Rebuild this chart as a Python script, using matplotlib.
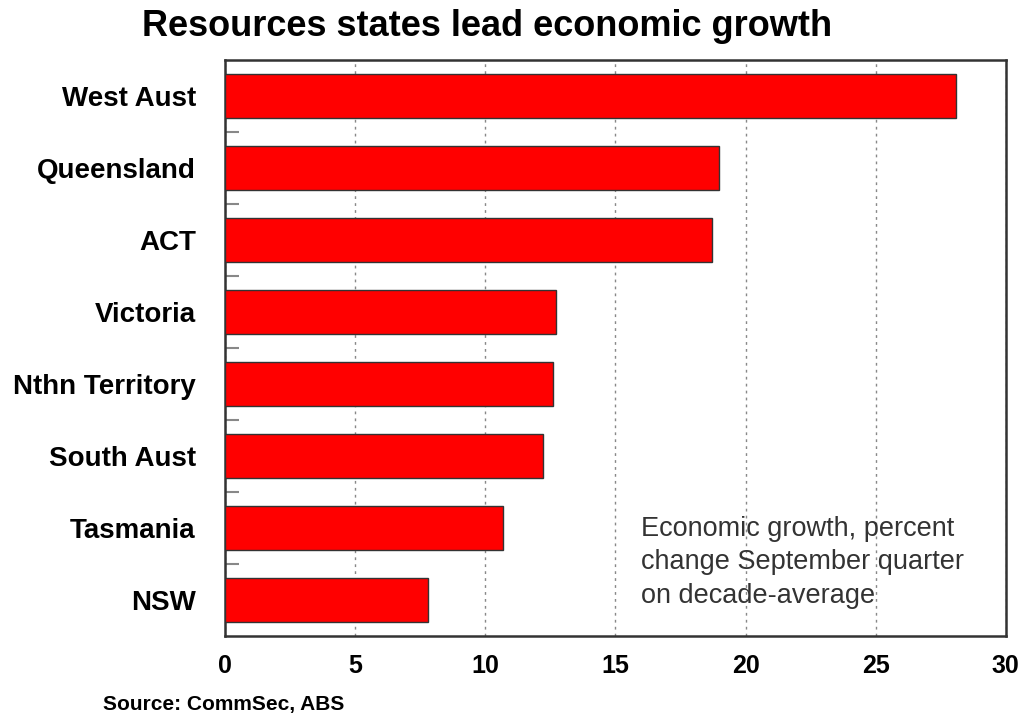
import matplotlib
matplotlib.use("Agg")
import matplotlib.pyplot as plt
import numpy as np

plt.rcParams['font.family'] = ['Liberation Sans', 'DejaVu Sans']

states = ["West Aust", "Queensland", "ACT", "Victoria", "Nthn Territory",
          "South Aust", "Tasmania", "NSW"]
growth = [28.1, 19.0, 18.7, 12.7, 12.6, 12.2, 10.7, 7.8]
x_ticks = [0, 5, 10, 15, 20, 25, 30]

fig = plt.figure(figsize=(10.18, 7.2), dpi=100)
ax = fig.add_axes([0.221, 0.1167, 0.767, 0.8])

y = np.arange(len(states))
ax.barh(y, growth, height=0.6, color="#ff0000", edgecolor="#333333",
        linewidth=1.0, zorder=3)

ax.set_xlim(0, 30)
ax.set_ylim(len(states) - 0.5, -0.5)
ax.set_xticks(x_ticks)
ax.set_xticklabels([str(t) for t in x_ticks], fontsize=18, fontweight="bold")
ax.set_yticks(y)
ax.set_yticklabels(states, fontsize=20, fontweight="bold")
ax.set_yticks(y[:-1] + 0.5, minor=True)

ax.tick_params(axis="x", length=0, pad=13)
ax.tick_params(axis="y", which="major", length=0, pad=21)
ax.tick_params(axis="y", which="minor", direction="in", length=10,
               width=1.5, color="#888888")

ax.grid(axis="x", linestyle=(0, (2, 3)), color="#888888", linewidth=1.0,
        zorder=1)
for s in ax.spines.values():
    s.set_color("#333333")
    s.set_linewidth(1.8)

ax.text(16.0, 5.83, "Economic growth, percent\nchange September quarter\non decade-average",
        fontsize=19.5, color="#333333", va="top", ha="left", linespacing=1.38,
        zorder=4)

fig.text(0.478, 0.963, "Resources states lead economic growth",
         fontsize=26, fontweight="bold", ha="center", va="center")
fig.text(0.101, 0.021, "Source: CommSec, ABS", fontsize=15,
         fontweight="bold", ha="left", va="center")

fig.savefig("out.png", dpi=100)
